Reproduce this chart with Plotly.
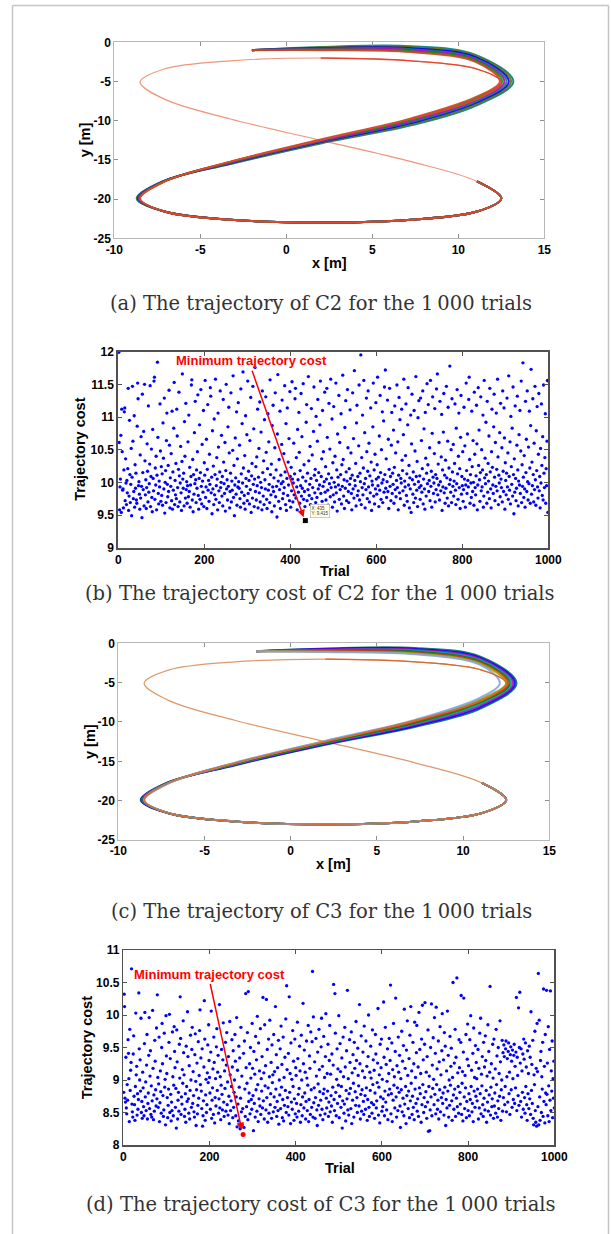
import plotly.graph_objects as go

W, H = 611, 1234

ref_x = [2.0, 7.25, 11.09, 12.5, 11.09, 7.25, 2.0, -3.25, -7.09, -8.5, -7.09, -3.25, 2.0,
         7.25, 11.09, 12.5, 11.09, 7.25, 2.0, -3.25, -7.09, -8.5, -7.09, -3.25, 2.0]
ref_y = [-2.0, -2.36, -3.41, -5.08, -7.25, -9.78, -12.5, -15.22, -17.75, -19.92, -21.59, -22.64, -23.0,
         -22.64, -21.59, -19.92, -17.75, -15.22, -12.5, -9.78, -7.25, -5.08, -3.41, -2.36, -2.0]

# ---------------- C2 trial trajectories (first part, before merging with reference) ----------------
traj_a_x = [
    [-2.0, 2.0, 7.25, 11.0, 12.42, 11.0, 7.25, 2.0, -3.25, -7.05, -8.50],
    [-2.0, 2.0, 7.25, 11.0, 12.55, 11.0, 7.25, 2.0, -3.25, -7.08, -8.53],
    [-2.0, 2.0, 7.25, 11.0, 12.68, 11.0, 7.25, 2.0, -3.25, -7.10, -8.57],
    [-2.0, 2.0, 7.25, 11.0, 12.81, 11.0, 7.25, 2.0, -3.25, -7.13, -8.60],
    [-2.0, 2.0, 7.25, 11.0, 12.94, 11.0, 7.25, 2.0, -3.25, -7.15, -8.63],
    [-2.0, 2.0, 7.25, 11.0, 13.07, 11.0, 7.25, 2.0, -3.25, -7.18, -8.67],
    [-2.0, 2.0, 7.25, 11.0, 13.20, 11.0, 7.25, 2.0, -3.25, -7.20, -8.70],
]
traj_a_y = [
    [-1.0, -1.00, -1.25, -2.50, -5.0, -7.00, -9.70, -12.40, -15.22, -17.75, -19.92],
    [-1.0, -0.93, -1.13, -2.35, -5.0, -7.18, -9.85, -12.48, -15.27, -17.75, -19.92],
    [-1.0, -0.87, -1.00, -2.20, -5.0, -7.37, -10.00, -12.57, -15.32, -17.75, -19.92],
    [-1.0, -0.80, -0.88, -2.05, -5.0, -7.55, -10.15, -12.65, -15.37, -17.75, -19.92],
    [-1.0, -0.73, -0.75, -1.90, -5.0, -7.73, -10.30, -12.73, -15.42, -17.75, -19.92],
    [-1.0, -0.67, -0.63, -1.75, -5.0, -7.92, -10.45, -12.82, -15.47, -17.75, -19.92],
    [-1.0, -0.60, -0.50, -1.60, -5.0, -8.10, -10.60, -12.90, -15.52, -17.75, -19.92],
]
traj_a_colors = ["#d04020", "#00a000", "#bf00bf", "#008080", "#0000ff", "#707000", "#007b7b"]

# ---------------- C3 trial trajectories ----------------
traj_c_x = [
    [-2.0, 2.0, 7.25, 11.0, 12.13, 11.0, 7.25, 2.0, -3.25, -7.05, -8.50],
    [-2.0, 2.0, 7.25, 11.0, 12.50, 11.0, 7.25, 2.0, -3.25, -7.05, -8.50],
    [-2.0, 2.0, 7.25, 11.0, 12.60, 11.0, 7.25, 2.0, -3.25, -7.08, -8.53],
    [-2.0, 2.0, 7.25, 11.0, 12.70, 11.0, 7.25, 2.0, -3.25, -7.10, -8.57],
    [-2.0, 2.0, 7.25, 11.0, 12.80, 11.0, 7.25, 2.0, -3.25, -7.13, -8.60],
    [-2.0, 2.0, 7.25, 11.0, 12.90, 11.0, 7.25, 2.0, -3.25, -7.15, -8.63],
    [-2.0, 2.0, 7.25, 11.0, 13.00, 11.0, 7.25, 2.0, -3.25, -7.18, -8.67],
    [-2.0, 2.0, 7.25, 11.0, 13.10, 11.0, 7.25, 2.0, -3.25, -7.20, -8.70],
]
traj_c_y = [
    [-1.0, -1.10, -1.40, -2.75, -5.08, -6.90, -9.70, -12.40, -15.20, -17.75, -19.92],
    [-1.0, -1.05, -1.30, -2.60, -5.08, -7.10, -9.80, -12.45, -15.22, -17.75, -19.92],
    [-1.0, -0.98, -1.18, -2.45, -5.08, -7.30, -9.93, -12.52, -15.27, -17.75, -19.92],
    [-1.0, -0.92, -1.07, -2.30, -5.08, -7.50, -10.07, -12.60, -15.32, -17.75, -19.92],
    [-1.0, -0.85, -0.95, -2.15, -5.08, -7.70, -10.20, -12.67, -15.37, -17.75, -19.92],
    [-1.0, -0.78, -0.83, -2.00, -5.08, -7.90, -10.33, -12.75, -15.42, -17.75, -19.92],
    [-1.0, -0.72, -0.72, -1.85, -5.08, -8.10, -10.47, -12.82, -15.47, -17.75, -19.92],
    [-1.0, -0.65, -0.60, -1.70, -5.08, -8.30, -10.60, -12.90, -15.52, -17.75, -19.92],
]
traj_c_colors = ["#7fa6e6", "#a0a000", "#e03010", "#008000", "#00a0a0", "#bf00bf", "#0000ff", "#006a6a"]

# ---------------- trajectory costs of C2 (panel b) ----------------
cost_b = [
    11.99, 10.61, 9.58, 9.93, 10.05, 10.72, 9.54, 11.12, 10.47, 9.88, 9.90, 9.61, 10.19, 11.08, 11.14, 9.72, 10.36, 9.99, 9.66, 10.03,
    9.84, 10.21, 11.44, 9.57, 9.79, 10.95, 10.12, 9.69, 9.97, 10.52, 9.49, 10.08, 11.47, 10.63, 9.75, 9.86, 11.02, 9.62, 10.27, 9.91,
    10.14, 9.73, 9.68, 10.86, 11.52, 11.28, 9.95, 10.01, 9.82, 9.59, 10.42, 9.76, 10.70, 9.94, 9.46, 11.35, 10.15, 9.89, 10.78, 9.64,
    11.50, 10.33, 9.81, 10.04, 9.60, 9.92, 10.59, 10.17, 9.70, 11.17, 9.85, 9.98, 10.28, 11.48, 9.63, 10.09, 10.51, 9.77, 9.55, 10.81,
    10.06, 9.87, 11.55, 11.61, 9.74, 10.22, 9.96, 10.40, 9.58, 10.11, 11.84, 10.69, 9.83, 9.67, 10.02, 9.93, 11.20, 10.48, 9.71, 10.24,
    9.80, 10.13, 9.65, 10.91, 10.37, 9.90, 11.29, 9.53, 10.00, 10.18, 9.69, 10.64, 11.06, 9.97, 9.78, 10.26, 9.86, 11.41, 10.57, 9.61,
    10.07, 9.94, 10.44, 9.72, 11.09, 9.59, 10.16, 9.88, 10.83, 11.53, 9.66, 10.03, 9.81, 10.29, 9.75, 11.12, 10.71, 9.92, 9.63, 10.20,
    11.38, 10.10, 9.70, 9.99, 10.55, 9.84, 9.57, 10.32, 11.66, 10.05, 9.91, 10.14, 9.64, 10.93, 10.40, 9.76, 11.21, 9.89, 10.01, 9.68,
    9.95, 10.62, 9.78, 11.03, 9.86, 10.23, 9.62, 9.96, 10.09, 11.49, 11.57, 9.73, 10.35, 9.55, 10.12, 9.82, 10.76, 9.98, 11.24, 10.04,
    9.69, 10.19, 9.91, 10.47, 11.34, 9.80, 9.59, 10.06, 10.88, 9.74, 10.15, 11.42, 9.94, 9.67, 10.58, 10.02, 9.85, 11.10, 9.63, 10.30,
    10.11, 11.56, 9.77, 9.93, 10.66, 9.60, 10.20, 11.19, 9.88, 10.03, 9.71, 10.43, 9.97, 11.45, 11.32, 9.84, 10.08, 9.52, 10.79, 9.90,
    10.25, 9.66, 10.97, 9.81, 10.12, 11.58, 9.74, 9.95, 10.38, 10.05, 9.58, 11.06, 10.54, 9.87, 9.69, 10.16, 11.40, 9.92, 10.00, 10.72,
    9.79, 10.09, 9.64, 11.27, 10.31, 9.98, 9.83, 10.61, 9.56, 10.18, 11.50, 9.90, 10.04, 9.73, 10.85, 9.94, 11.15, 10.45, 9.61, 9.86,
    10.14, 11.37, 9.70, 10.02, 9.88, 10.49, 11.63, 9.77, 10.26, 9.49, 9.96, 10.68, 10.07, 9.82, 11.08, 9.65, 10.36, 9.93, 11.22, 10.01,
    9.91, 10.57, 9.75, 9.62, 11.43, 10.13, 9.85, 10.90, 9.99, 11.69, 10.22, 9.68, 9.80, 10.41, 9.59, 11.02, 10.06, 9.94, 10.73, 9.72,
    11.55, 9.83, 10.17, 10.03, 9.67, 10.64, 9.89, 11.30, 9.54, 10.10, 10.29, 9.76, 11.47, 9.97, 10.82, 9.63, 10.05, 11.76, 9.86, 10.24,
    9.73, 10.39, 9.95, 11.12, 9.61, 10.08, 10.52, 9.84, 11.23, 9.70, 10.00, 10.77, 9.92, 9.58, 11.40, 10.15, 9.79, 10.33, 9.66, 10.96,
    10.04, 9.90, 11.31, 10.46, 9.74, 9.60, 10.21, 11.05, 9.88, 10.62, 9.97, 9.69, 11.57, 10.12, 9.81, 10.28, 9.55, 10.87, 9.93, 11.18,
    9.86, 10.07, 9.64, 10.53, 11.37, 9.78, 10.19, 9.94, 9.47, 10.74, 11.65, 10.02, 9.71, 10.35, 9.89, 11.09, 9.60, 10.11, 9.98, 10.58,
    11.26, 9.75, 10.01, 9.83, 10.44, 9.92, 11.48, 10.16, 9.66, 10.90, 9.57, 10.06, 11.14, 9.80, 10.31, 9.96, 10.67, 9.72, 11.39, 10.09,
    9.62, 10.23, 9.87, 11.54, 10.05, 9.70, 9.99, 10.60, 9.81, 10.13, 11.28, 11.44, 9.76, 10.38, 9.93, 9.58, 10.81, 10.04, 9.85, 11.07,
    10.46, 9.68, 10.18, 9.95, 11.36, 9.79, 10.70, 9.91, 10.08, 11.51, 9.74, 10.27, 9.86, 9.63, 9.415, 10.02, 10.92, 11.19, 9.72, 10.14,
    9.89, 11.62, 10.33, 9.80, 9.97, 10.55, 9.66, 10.06, 11.13, 9.75, 10.42, 9.92, 9.59, 10.78, 11.46, 10.11, 9.84, 10.20, 9.69, 11.01,
    10.03, 9.77, 10.63, 11.27, 9.90, 10.15, 9.61, 9.96, 10.88, 11.55, 9.83, 10.09, 10.36, 9.71, 11.10, 9.94, 10.47, 9.57, 10.01, 11.38,
    9.85, 10.24, 9.73, 10.05, 11.44, 10.69, 9.88, 9.65, 10.13, 11.21, 9.98, 10.51, 9.78, 11.58, 9.92, 10.07, 10.97, 9.62, 10.30, 9.81,
    11.16, 10.00, 9.70, 10.40, 9.93, 11.52, 9.84, 10.19, 9.56, 10.74, 10.08, 9.96, 11.33, 9.74, 10.61, 9.89, 10.12, 11.05, 9.67, 10.27,
    9.94, 11.64, 10.35, 9.79, 10.04, 9.60, 10.84, 9.91, 11.25, 10.16, 9.72, 10.02, 11.42, 10.53, 9.86, 9.69, 10.21, 9.97, 11.11, 10.06,
    10.45, 9.83, 9.58, 10.11, 11.37, 9.90, 10.67, 9.76, 11.71, 10.03, 9.95, 10.29, 9.64, 10.91, 11.18, 9.80, 10.09, 9.87, 10.56, 11.49,
    9.73, 10.14, 10.01, 11.95, 9.66, 10.38, 9.92, 11.03, 9.81, 10.22, 11.56, 9.98, 10.76, 9.61, 10.06, 9.89, 11.29, 10.47, 9.75, 10.17,
    11.40, 9.93, 10.60, 9.70, 10.10, 9.84, 11.14, 10.31, 9.57, 10.02, 9.96, 10.85, 11.52, 9.79, 10.19, 9.67, 10.43, 9.90, 11.22, 10.05,
    9.82, 10.27, 11.61, 9.95, 10.08, 9.63, 10.71, 9.88, 11.33, 10.15, 9.74, 10.50, 9.99, 11.08, 9.69, 10.04, 10.94, 9.85, 11.46, 10.12,
    11.72, 9.91, 10.36, 9.77, 10.01, 11.26, 9.86, 10.66, 9.60, 10.20, 11.44, 9.94, 10.09, 9.72, 10.57, 11.07, 9.83, 10.14, 9.97, 10.80,
    9.68, 10.23, 11.17, 9.89, 10.45, 9.78, 10.03, 11.49, 9.92, 10.62, 9.58, 10.11, 11.30, 9.84, 10.96, 9.75, 10.06, 9.99, 11.12, 10.34,
    10.18, 9.87, 10.73, 11.58, 9.65, 10.02, 9.93, 10.41, 11.20, 9.80, 10.13, 9.71, 10.88, 11.45, 9.96, 10.26, 9.61, 10.07, 9.90, 11.03,
    9.54, 10.59, 11.35, 10.04, 9.82, 10.16, 9.69, 11.10, 9.97, 10.48, 9.76, 11.62, 10.09, 9.88, 10.32, 9.63, 10.99, 10.01, 11.25, 9.92,
    10.10, 9.74, 11.29, 9.95, 10.64, 9.85, 10.21, 11.40, 9.67, 10.05, 10.82, 9.90, 9.59, 11.07, 10.37, 9.79, 10.14, 11.51, 9.98, 10.27,
    11.19, 9.86, 10.03, 10.53, 9.72, 11.56, 9.94, 10.17, 9.62, 10.75, 11.31, 10.08, 9.83, 9.99, 10.44, 11.13, 9.70, 10.12, 9.89, 11.43,
    10.06, 11.66, 9.81, 10.28, 9.96, 10.61, 9.73, 11.24, 10.01, 9.87, 10.39, 11.04, 9.57, 10.19, 9.93, 10.77, 11.36, 9.84, 10.11, 9.68,
    10.34, 9.91, 11.47, 10.07, 9.76, 10.63, 11.15, 9.64, 10.22, 9.97, 11.78, 10.04, 9.85, 10.50, 9.69, 11.28, 10.16, 9.94, 10.58, 9.79,
    10.02, 10.29, 11.20, 9.88, 9.66, 10.83, 9.98, 11.42, 10.13, 9.74, 10.40, 11.06, 9.92, 10.21, 9.60, 10.69, 11.33, 9.82, 10.09, 9.95,
    10.47, 9.71, 9.89, 11.15, 10.05, 10.56, 9.62, 9.96, 11.52, 10.18, 9.83, 10.74, 10.03, 9.93, 11.27, 11.61, 10.35, 9.68, 10.12, 9.99,
    9.77, 11.09, 10.24, 9.86, 10.64, 10.00, 9.65, 11.38, 10.43, 9.92, 9.81, 10.10, 11.18, 10.59, 9.58, 9.96, 11.45, 10.26, 10.80, 10.04,
    9.71, 10.15, 11.31, 9.87, 10.50, 9.93, 10.19, 11.03, 9.62, 9.79, 11.56, 10.07, 10.37, 9.98, 10.92, 10.12, 9.68, 11.24, 9.85, 10.29,
    10.02, 10.71, 9.75, 11.44, 10.16, 9.90, 9.61, 10.47, 11.12, 10.23, 9.96, 9.83, 10.85, 11.35, 10.08, 9.72, 10.61, 9.94, 11.06, 10.20,
    9.87, 11.58, 10.39, 9.66, 10.11, 9.99, 10.76, 9.78, 11.21, 10.05, 9.92, 10.53, 9.70, 11.40, 10.17, 9.86, 11.14, 10.68, 9.59, 10.30,
    10.03, 9.81, 10.14, 11.29, 9.93, 10.45, 9.74, 11.63, 10.09, 9.88, 10.62, 9.67, 11.01, 10.24, 9.97, 10.83, 9.79, 11.46, 10.12, 9.52,
    10.36, 9.85, 11.17, 10.06, 9.72, 9.91, 10.57, 11.32, 10.19, 9.64, 10.02, 10.73, 9.96, 11.10, 9.83, 10.48, 11.55, 9.69, 10.27, 9.94,
    11.83, 10.08, 9.77, 10.41, 9.90, 9.62, 11.24, 10.15, 10.66, 9.86, 11.40, 10.01, 9.73, 10.54, 9.98, 11.09, 10.22, 9.68, 10.87, 11.73,
    9.82, 10.31, 9.95, 11.28, 10.12, 9.70, 10.60, 9.89, 11.47, 10.04, 9.65, 10.79, 10.18, 11.16, 9.93, 9.76, 10.43, 11.36, 9.87, 10.09,
    9.61, 10.52, 9.99, 11.20, 10.26, 9.80, 10.70, 9.73, 11.49, 10.14, 9.92, 10.38, 11.05, 9.68, 10.21, 9.95, 10.63, 11.56, 9.54, 11.55,
]

# ---------------- trajectory costs of C3 (panel d) ----------------
cost_d = [
    8.81, 10.32, 10.13, 8.72, 8.66, 9.35, 8.57, 8.48, 8.93, 8.69, 9.62, 9.41, 9.02, 8.36, 9.78, 8.84, 9.15, 9.27, 10.71, 8.63,
    8.51, 8.43, 9.40, 9.68, 8.75, 8.62, 8.38, 8.90, 10.03, 9.08, 9.21, 8.46, 8.79, 8.55, 8.70, 10.34, 9.48, 9.00, 9.31, 8.83,
    9.95, 8.50, 8.67, 8.41, 9.12, 8.88, 8.59, 8.45, 9.56, 10.04, 8.74, 8.97, 8.53, 9.23, 9.70, 8.40, 8.64, 8.80, 9.38, 9.96,
    8.56, 9.06, 9.45, 8.47, 8.91, 8.43, 8.68, 10.07, 9.18, 8.39, 8.77, 8.52, 9.61, 9.29, 8.85, 8.60, 9.80, 8.71, 10.31, 9.04,
    8.58, 8.94, 9.66, 8.36, 8.65, 9.14, 8.82, 8.49, 9.50, 9.87, 9.25, 8.76, 8.44, 8.54, 9.72, 8.89, 9.01, 8.31, 9.99, 9.37,
    9.10, 8.73, 8.42, 8.61, 8.86, 9.58, 10.01, 8.50, 9.33, 8.78, 8.37, 8.66, 8.53, 9.74, 9.05, 8.45, 8.92, 9.82, 9.44, 9.19,
    8.58, 8.87, 8.26, 9.77, 9.28, 8.40, 8.69, 8.81, 8.52, 9.55, 9.03, 10.28, 9.64, 8.47, 8.74, 8.63, 9.16, 8.95, 9.91, 9.42,
    9.08, 8.44, 8.55, 8.79, 8.35, 9.52, 8.90, 8.67, 10.05, 9.36, 8.71, 8.49, 9.22, 8.40, 8.84, 9.69, 9.00, 8.58, 9.47, 9.81,
    8.64, 9.13, 8.76, 8.51, 8.43, 9.39, 9.71, 8.98, 8.30, 8.85, 9.26, 8.48, 8.61, 9.59, 8.72, 9.07, 9.76, 10.08, 8.93, 9.34,
    8.83, 8.56, 9.48, 8.29, 8.45, 8.68, 9.20, 10.22, 9.63, 8.38, 8.77, 9.01, 8.50, 8.62, 9.11, 9.54, 8.96, 9.85, 9.30, 9.04,
    8.80, 8.55, 9.43, 10.06, 8.41, 8.69, 8.88, 9.17, 8.47, 9.66, 9.27, 8.34, 8.73, 9.02, 8.60, 9.51, 9.79, 8.84, 9.12, 9.38,
    8.49, 8.71, 10.16, 8.57, 9.05, 8.39, 8.92, 9.47, 8.78, 8.54, 9.31, 9.88, 8.66, 8.44, 9.14, 8.87, 9.58, 8.52, 9.23, 9.73,
    8.62, 8.97, 8.46, 9.36, 8.75, 8.33, 9.90, 9.08, 8.53, 8.68, 8.90, 9.62, 9.20, 8.42, 9.45, 8.58, 8.81, 9.00, 9.70, 9.29,
    8.45, 8.74, 9.96, 8.28, 9.15, 8.63, 8.37, 9.52, 8.89, 9.34, 8.25, 8.72, 9.81, 8.51, 9.06, 8.31, 8.56, 8.16, 9.41, 8.27,
    9.60, 8.86, 8.44, 10.33, 9.19, 8.59, 8.95, 9.73, 8.39, 10.36, 8.67, 8.80, 9.25, 8.48, 9.50, 9.03, 8.70, 8.55, 9.87, 9.18,
    8.76, 8.22, 9.44, 8.64, 9.09, 8.43, 9.67, 8.85, 9.31, 8.52, 9.98, 8.93, 8.36, 9.57, 8.71, 9.14, 8.60, 9.79, 8.47, 9.02,
    8.83, 9.36, 8.57, 10.27, 8.68, 9.11, 8.40, 9.85, 8.91, 9.22, 8.54, 10.24, 8.73, 9.47, 8.35, 8.88, 9.63, 8.49, 9.05, 9.92,
    8.62, 8.79, 9.27, 8.41, 9.54, 8.96, 9.08, 8.51, 9.70, 8.74, 9.13, 8.58, 10.13, 8.86, 9.39, 8.44, 8.67, 9.19, 8.53, 9.61,
    8.32, 9.00, 8.77, 9.48, 8.56, 9.83, 8.89, 9.24, 8.42, 8.70, 9.66, 8.37, 9.04, 8.61, 9.35, 8.84, 9.94, 8.50, 10.45, 9.16,
    8.73, 8.59, 9.41, 8.46, 10.28, 8.81, 9.10, 8.33, 9.57, 8.66, 9.01, 8.55, 9.76, 8.90, 9.29, 8.38, 8.71, 9.63, 8.48, 9.19,
    9.07, 8.64, 8.43, 9.89, 9.33, 8.78, 8.52, 8.87, 9.52, 9.14, 8.35, 8.62, 9.69, 9.00, 8.45, 8.74, 10.18, 9.25, 8.57, 9.46,
    8.80, 9.12, 8.40, 8.67, 9.60, 9.03, 8.53, 8.92, 9.84, 8.36, 8.70, 9.37, 9.18, 8.47, 9.74, 8.85, 8.58, 9.59, 10.67, 8.43,
    9.97, 8.65, 8.88, 9.28, 8.41, 8.73, 9.64, 9.06, 8.54, 8.30, 9.43, 8.94, 8.61, 9.78, 9.16, 8.82, 8.46, 8.69, 9.51, 9.95,
    8.55, 9.21, 8.39, 8.79, 9.67, 8.86, 9.04, 8.48, 9.36, 10.02, 8.72, 8.57, 9.10, 8.83, 9.55, 8.44, 8.66, 9.30, 9.84, 8.51,
    9.09, 8.76, 8.60, 9.40, 8.35, 8.89, 9.23, 10.47, 8.70, 8.53, 10.33, 9.72, 8.81, 8.45, 9.01, 9.48, 8.64, 9.17, 8.92, 9.99,
    8.42, 8.75, 9.56, 9.13, 8.58, 8.90, 9.34, 8.26, 8.68, 9.66, 9.05, 8.49, 8.63, 9.81, 9.20, 8.37, 8.84, 9.45, 8.71, 10.38,
    8.54, 9.02, 8.46, 8.79, 9.62, 9.27, 8.87, 8.56, 9.74, 8.33, 9.11, 8.69, 9.39, 8.95, 8.43, 9.58, 9.18, 8.82, 8.61, 9.90,
    9.30, 8.73, 8.50, 9.49, 9.07, 8.91, 8.60, 10.16, 9.25, 8.40, 8.78, 9.68, 8.52, 8.85, 9.14, 9.43, 8.67, 8.47, 9.83, 9.04,
    8.76, 8.55, 9.60, 8.88, 9.21, 8.38, 8.70, 9.36, 10.00, 8.58, 8.44, 9.12, 8.84, 9.52, 9.03, 8.65, 8.49, 9.77, 8.93, 9.31,
    8.62, 9.15, 8.41, 8.80, 9.70, 9.40, 8.57, 8.68, 8.96, 9.26, 10.10, 8.46, 8.89, 9.08, 8.34, 9.55, 8.74, 9.19, 9.63, 8.52,
    9.01, 8.59, 8.71, 10.20, 9.35, 8.45, 8.83, 9.81, 8.66, 9.24, 8.54, 8.98, 9.48, 8.39, 8.77, 9.10, 9.64, 8.86, 9.30, 10.46,
    8.48, 8.79, 9.57, 8.36, 9.16, 8.69, 9.87, 8.92, 9.05, 8.57, 9.44, 10.26, 8.74, 8.43, 9.22, 8.88, 8.53, 9.66, 9.12, 8.81,
    9.38, 8.60, 8.27, 9.02, 8.85, 9.75, 8.51, 9.29, 8.72, 9.53, 8.45, 10.09, 8.63, 9.18, 8.90, 8.33, 9.46, 8.76, 9.91, 9.07,
    8.56, 8.83, 9.33, 8.42, 9.69, 8.68, 10.13, 8.95, 9.14, 8.47, 8.75, 9.58, 8.58, 9.25, 8.39, 9.89, 8.86, 9.04, 8.64, 9.42,
    9.84, 8.52, 8.71, 9.20, 8.44, 10.04, 8.88, 9.47, 8.79, 9.10, 8.35, 9.63, 8.62, 10.15, 8.93, 9.31, 8.50, 8.73, 9.55, 10.19,
    8.59, 8.82, 9.12, 8.41, 9.36, 8.66, 9.77, 8.21, 8.90, 9.06, 8.22, 8.54, 9.50, 8.74, 10.17, 8.45, 9.23, 8.87, 9.65, 9.01,
    8.62, 9.96, 8.78, 9.41, 8.48, 10.12, 8.93, 9.17, 8.55, 8.69, 9.60, 8.40, 9.28, 8.85, 9.82, 8.51, 9.08, 8.73, 9.45, 10.02,
    8.64, 8.80, 9.31, 8.46, 9.73, 8.89, 9.52, 8.30, 8.70, 9.14, 8.57, 10.06, 8.83, 9.38, 8.43, 9.00, 8.61, 9.67, 8.92, 9.21,
    9.49, 8.68, 8.38, 9.04, 10.50, 8.77, 8.55, 9.26, 8.86, 9.78, 8.44, 9.35, 8.72, 10.57, 8.59, 9.11, 8.90, 8.49, 9.62, 9.19,
    8.81, 8.63, 9.58, 10.30, 8.47, 8.95, 9.13, 8.37, 9.43, 10.26, 8.74, 8.56, 9.07, 8.88, 9.70, 8.42, 8.67, 9.32, 9.86, 8.53,
    9.22, 8.79, 8.45, 9.62, 8.70, 9.99, 8.90, 9.15, 8.51, 8.64, 9.41, 8.36, 9.80, 8.83, 9.04, 8.58, 9.53, 8.75, 9.27, 9.02,
    8.68, 8.86, 9.47, 8.40, 9.18, 8.57, 9.72, 8.79, 9.95, 8.48, 9.09, 8.91, 9.36, 8.62, 8.44, 9.58, 8.72, 9.20, 8.54, 9.68,
    9.30, 8.84, 8.35, 9.06, 8.66, 9.85, 8.52, 9.44, 8.77, 9.12, 10.44, 8.46, 8.89, 9.25, 8.59, 8.71, 9.55, 9.03, 8.41, 9.63,
    8.60, 8.80, 9.17, 8.49, 9.78, 8.93, 9.37, 8.43, 8.68, 9.50, 8.56, 9.10, 8.75, 9.91, 9.28, 8.38, 8.85, 9.00, 9.61, 8.52,
    9.42, 8.73, 9.54, 9.36, 8.62, 8.90, 9.48, 9.60, 8.51, 9.05, 9.33, 8.66, 9.44, 9.57, 8.79, 9.12, 8.47, 9.39, 9.51, 8.85,
    9.29, 8.58, 9.46, 9.02, 8.70, 9.38, 9.55, 8.64, 9.21, 8.88, 9.43, 10.27, 8.53, 9.35, 9.07, 8.76, 10.11, 8.61, 9.50, 10.35,
    9.26, 8.67, 9.48, 8.43, 9.14, 8.81, 9.40, 8.55, 9.63, 9.32, 8.73, 8.49, 9.57, 8.90, 9.20, 8.62, 8.38, 9.45, 8.79, 9.10,
    8.56, 9.52, 8.71, 9.35, 8.47, 10.05, 8.84, 9.24, 8.64, 9.61, 8.41, 8.31, 9.08, 8.93, 9.75, 8.53, 8.35, 9.18, 8.29, 9.87,
    9.13, 8.59, 10.64, 8.31, 9.92, 8.74, 8.38, 9.30, 9.44, 8.50, 9.05, 8.86, 9.58, 8.44, 10.40, 8.67, 9.21, 8.34, 9.70, 8.80,
    8.62, 10.38, 8.78, 9.26, 8.45, 9.82, 8.91, 8.36, 9.47, 8.69, 10.37, 8.53, 9.14, 8.83, 9.60, 8.42, 9.02, 8.72, 9.29, 8.57,
]

trials_b = list(range(1, len(cost_b) + 1))
trials_d = list(range(1, len(cost_d) + 1))

# tick labels
traj_xticks = [-10, -5, 0, 5, 10, 15]
traj_yticks = [0, -5, -10, -15, -20, -25]
trial_ticks = [0, 200, 400, 600, 800, 1000]
cost_b_ticks = [9, 9.5, 10, 10.5, 11, 11.5, 12]
cost_d_ticks = [8, 8.5, 9, 9.5, 10, 10.5, 11]

captions = [
    "(a) The trajectory of C2 for the 1\u2009000 trials",
    "(b) The trajectory cost of C2 for the 1\u2009000 trials",
    "(c) The trajectory of C3 for the 1\u2009000 trials",
    "(d) The trajectory cost of C3 for the 1\u2009000 trials",
]

# ---------------------------------------------------------------------------
def dx(a, b):
    return [a / W, b / W]


def dy(top, bottom):
    return [1 - bottom / H, 1 - top / H]


TICKFONT = dict(family="Liberation Sans, Arial", size=12, color="black", weight="bold")


def axis(domain, rng, ticks, anchor, lc, lw, tc):
    return dict(domain=domain, range=rng, anchor=anchor, showline=True, linecolor=lc,
                linewidth=lw, mirror="ticks", ticks="inside", ticklen=4, tickwidth=1,
                tickcolor=tc, showgrid=False, zeroline=False, automargin=False,
                tickvals=ticks, ticktext=[("%g" % t) for t in ticks], tickfont=TICKFONT)


TAIL = slice(10, 17)   # part of the reference path that all trials share at the end
NOMINAL = slice(0, 17)

fig = go.Figure()

# ----- panel a -----
fig.add_trace(go.Scatter(x=ref_x, y=ref_y, mode="lines", line=dict(color="rgb(238,150,122)", width=1.2, shape="spline"),
                         xaxis="x", yaxis="y", hoverinfo="skip"))
for k in range(len(traj_a_x) - 1, -1, -1):
    xs = traj_a_x[k] + ref_x[TAIL]
    ys = traj_a_y[k] + ref_y[TAIL]
    fig.add_trace(go.Scatter(x=xs, y=ys, mode="lines", line=dict(color=traj_a_colors[k], width=2, shape="spline"),
                             opacity=0.9, xaxis="x", yaxis="y", hoverinfo="skip"))
fig.add_trace(go.Scatter(x=ref_x[NOMINAL], y=ref_y[NOMINAL], mode="lines",
                         line=dict(color="rgb(228,70,50)", width=1.3, shape="spline"),
                         xaxis="x", yaxis="y", hoverinfo="skip"))

# ----- panel b -----
fig.add_trace(go.Scatter(x=trials_b, y=cost_b, mode="markers", marker=dict(color="#0000ff", size=3.3),
                         cliponaxis=False, xaxis="x2", yaxis="y2", hoverinfo="skip"))
ib = cost_b.index(min(cost_b))
fig.add_trace(go.Scatter(x=[trials_b[ib]], y=[cost_b[ib]], mode="markers",
                         marker=dict(color="black", size=5, symbol="square"), cliponaxis=False,
                         xaxis="x2", yaxis="y2", hoverinfo="skip"))

# ----- panel c -----
fig.add_trace(go.Scatter(x=ref_x, y=ref_y, mode="lines", line=dict(color="rgb(222,152,105)", width=1.2, shape="spline"),
                         xaxis="x3", yaxis="y3", hoverinfo="skip"))
for k in range(len(traj_c_x) - 1, -1, -1):
    xs = traj_c_x[k] + ref_x[TAIL]
    ys = traj_c_y[k] + ref_y[TAIL]
    fig.add_trace(go.Scatter(x=xs, y=ys, mode="lines", line=dict(color=traj_c_colors[k], width=2, shape="spline"),
                             opacity=0.9, xaxis="x3", yaxis="y3", hoverinfo="skip"))
fig.add_trace(go.Scatter(x=ref_x[NOMINAL], y=ref_y[NOMINAL], mode="lines",
                         line=dict(color="rgb(215,105,55)", width=1.3, shape="spline"),
                         xaxis="x3", yaxis="y3", hoverinfo="skip"))

# ----- panel d -----
fig.add_trace(go.Scatter(x=trials_d, y=cost_d, mode="markers", marker=dict(color="#0000ff", size=3.3),
                         cliponaxis=False, xaxis="x4", yaxis="y4", hoverinfo="skip"))
idd = cost_d.index(min(cost_d))
fig.add_trace(go.Scatter(x=[trials_d[idd]], y=[cost_d[idd]], mode="markers",
                         marker=dict(color="red", size=5), cliponaxis=False, xaxis="x4", yaxis="y4",
                         hoverinfo="skip"))

LIGHT, DARK = "#b8b8b8", "#505050"
fig.update_layout(
    width=W, height=H, margin=dict(l=0, r=0, t=0, b=0, autoexpand=False), showlegend=False,
    paper_bgcolor="white", plot_bgcolor="white", hovermode=False,
    xaxis=axis(dx(114.3, 544.3), [-10, 15], traj_xticks, "y", LIGHT, 1, "#909090"),
    yaxis=axis(dy(42.3, 238.3), [-25, 0], traj_yticks, "x", LIGHT, 1, "#909090"),
    xaxis2=axis(dx(118.3, 548.3), [0, 1000], trial_ticks, "y2", DARK, 2, DARK),
    yaxis2=axis(dy(351.7, 547.7), [9, 12], cost_b_ticks, "x2", DARK, 2, DARK),
    xaxis3=axis(dx(118.3, 549.3), [-10, 15], traj_xticks, "y3", LIGHT, 1, "#909090"),
    yaxis3=axis(dy(643.3, 840.0), [-25, 0], traj_yticks, "x3", LIGHT, 1, "#909090"),
    xaxis4=axis(dx(123.3, 554.3), [0, 1000], trial_ticks, "y4", DARK, 1.5, DARK),
    yaxis4=axis(dy(950.0, 1145.0), [8, 11], cost_d_ticks, "x4", DARK, 1.5, DARK),
)

TITLEFONT = dict(family="Liberation Sans, Arial", size=14.5, color="black", weight="bold")
ann = []


def title(text, xp, yp, angle=0):
    ann.append(dict(text=text, x=xp / W, y=1 - yp / H, xref="paper", yref="paper", showarrow=False,
                    textangle=angle, font=TITLEFONT, xanchor="center", yanchor="middle"))


title("x [m]", 329.3, 263)
title("y [m]", 85, 140.3, -90)
title("Trial", 335, 571)
title("Trajectory cost", 80, 449.7, -90)
title("x [m]", 333, 864.3)
title("y [m]", 89.3, 741.7, -90)
title("Trial", 340, 1168.3)
title("Trajectory cost", 86.7, 1047.5, -90)

CAPFONT = dict(family="DejaVu Serif", size=19.5, color="#333333")
for txt, (xp, yp) in zip(captions, [(321, 303), (320, 593), (321, 911), (321, 1204.5)]):
    ann.append(dict(text=txt, x=xp / W, y=1 - yp / H, xref="paper", yref="paper", showarrow=False,
                    font=CAPFONT, xanchor="center", yanchor="middle"))

REDFONT = dict(family="Liberation Sans, Arial", size=13, color="red", weight="bold")
# panel b annotation
ann.append(dict(text="Minimum trajectory cost", x=310, y=11.86, xref="x2", yref="y2", showarrow=False, font=REDFONT))
ann.append(dict(text="", x=trials_b[ib] - 4, y=cost_b[ib] + 0.05, ax=310, ay=11.73, xref="x2", yref="y2",
                axref="x2", ayref="y2", showarrow=True, arrowhead=2, arrowsize=1, arrowwidth=1.5, arrowcolor="red"))
ann.append(dict(text="X: %d<br>Y: %.3f" % (trials_b[ib], cost_b[ib]), x=trials_b[ib] + 10, y=cost_b[ib] + 0.14,
                xref="x2", yref="y2", showarrow=False, xanchor="left", yanchor="middle", align="left",
                font=dict(family="Liberation Sans", size=4.5, color="#333333"), bgcolor="#ffffe6",
                bordercolor="#aaaaaa", borderwidth=0.6, borderpad=1))
# panel d annotation
ann.append(dict(text="Minimum trajectory cost", x=201, y=10.63, xref="x4", yref="y4", showarrow=False, font=REDFONT))
ann.append(dict(text="", x=trials_d[idd] - 3, y=cost_d[idd] + 0.07, ax=201, ay=10.5, xref="x4", yref="y4",
                axref="x4", ayref="y4", showarrow=True, arrowhead=2, arrowsize=1, arrowwidth=1.5, arrowcolor="red"))

fig.update_layout(annotations=ann)

# page frame lines
BC = "#c4c4c4"
fig.update_layout(shapes=[
    dict(type="line", xref="paper", yref="paper", x0=12.5 / W, x1=12.5 / W, y0=0, y1=1 - 5.5 / H,
         line=dict(color=BC, width=1.5)),
    dict(type="line", xref="paper", yref="paper", x0=12.5 / W, x1=608.5 / W, y0=1 - 5.5 / H, y1=1 - 5.5 / H,
         line=dict(color=BC, width=1.5)),
    dict(type="line", xref="paper", yref="paper", x0=608.5 / W, x1=608.5 / W, y0=0, y1=1 - 5.5 / H,
         line=dict(color=BC, width=1.5)),
])

# remove the browser's default 8px body margin so the figure sits at the page origin
fig.write_html("out.html", config={"displayModeBar": False, "staticPlot": True},
               post_script="document.body.style.margin='0';")
